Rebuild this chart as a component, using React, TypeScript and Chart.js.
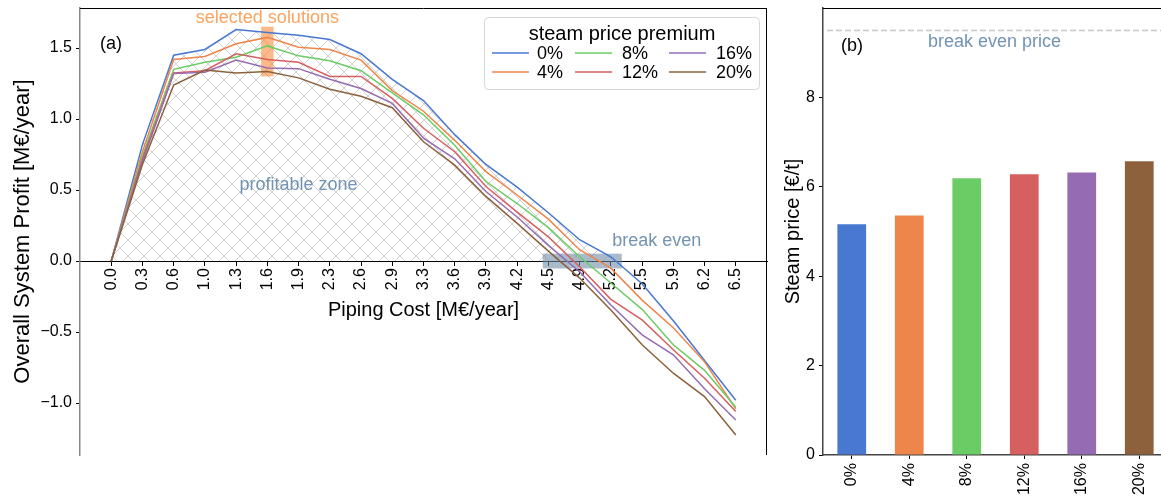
import React, { useEffect, useRef } from 'react';
import { Chart, registerables } from 'chart.js';

Chart.register(...registerables);

// ---------- data ----------
const pipingCost = ['0.0', '0.3', '0.6', '1.0', '1.3', '1.6', '1.9', '2.3', '2.6', '2.9', '3.3', '3.6', '3.9', '4.2', '4.5', '4.9', '5.2', '5.5', '5.9', '6.2', '6.5'];
const premiumLabels = ['0%', '4%', '8%', '12%', '16%', '20%'];

const profit0 = [0, 0.82, 1.45, 1.49, 1.63, 1.61, 1.59, 1.56, 1.46, 1.28, 1.13, 0.89, 0.68, 0.52, 0.34, 0.15, 0.03, -0.16, -0.42, -0.70, -0.98];
const profit4 = [0, 0.77, 1.42, 1.44, 1.53, 1.575, 1.505, 1.49, 1.415, 1.20, 1.055, 0.85, 0.63, 0.465, 0.295, 0.08, -0.05, -0.275, -0.47, -0.71, -1.04];
const profit8 = [0, 0.74, 1.35, 1.40, 1.435, 1.515, 1.445, 1.41, 1.34, 1.185, 1.03, 0.815, 0.56, 0.405, 0.235, 0.03, -0.155, -0.34, -0.59, -0.77, -1.03];
const profit12 = [0, 0.72, 1.325, 1.34, 1.46, 1.42, 1.40, 1.30, 1.30, 1.145, 0.935, 0.77, 0.525, 0.345, 0.17, -0.04, -0.27, -0.415, -0.625, -0.825, -1.06];
const profit16 = [0, 0.70, 1.32, 1.33, 1.415, 1.36, 1.355, 1.28, 1.215, 1.11, 0.865, 0.72, 0.49, 0.31, 0.11, -0.075, -0.31, -0.52, -0.66, -0.90, -1.12];
const profit20 = [0, 0.68, 1.24, 1.345, 1.325, 1.335, 1.29, 1.21, 1.16, 1.08, 0.84, 0.675, 0.455, 0.265, 0.07, -0.12, -0.345, -0.59, -0.79, -0.955, -1.225];

const steamPrice = [5.16, 5.36, 6.19, 6.28, 6.32, 6.57];
const breakEvenPrice = 9.5;

const leftYTicks = { min: -1.366, max: 1.782, step: 0.5 };
const rightYTicks = { min: 0, max: 10, step: 2, lastShown: 8 };

// selected solutions span (index on x, value on y) and break-even span
const selectedSpan = { x0: 4.8, x1: 5.2, y0: 1.3, y1: 1.65 };
const breakEvenSpan = { x0: 13.82, x1: 16.35, y0: -0.052, y1: 0.052 };

const palette = ['#4878d0', '#ee854a', '#6acc64', '#d65f5f', '#956cb4', '#8c613c'];
const FONT = '"Liberation Sans", Arial, Helvetica, sans-serif';
const annotBlue = '#7393b3';

Chart.defaults.font.family = FONT;
Chart.defaults.color = '#000';

function makeHatch() {
  const c = document.createElement('canvas');
  c.width = 16;
  c.height = 16;
  const g = c.getContext('2d')!;
  g.strokeStyle = '#cdcdcd';
  g.lineWidth = 0.9;
  g.beginPath();
  g.moveTo(0, 0);
  g.lineTo(16, 16);
  g.moveTo(16, 0);
  g.lineTo(0, 16);
  g.stroke();
  return g.createPattern(c, 'repeat')!;
}

const fmtSigned = (v: number) => (v < 0 ? '\u2212' : '') + Math.abs(v).toFixed(1);

export default function App() {
  const leftRef = useRef<HTMLCanvasElement | null>(null);
  const rightRef = useRef<HTMLCanvasElement | null>(null);

  useEffect(() => {
    const series = [profit0, profit4, profit8, profit12, profit16, profit20];
    const hatch = makeHatch();

    const leftPlugin = {
      id: 'leftAnnot',
      afterDatasetDraw(chart: any, args: any) {
        if (args.index !== 0) return;
        const { ctx } = chart;
        const xs = chart.scales.x;
        const ys = chart.scales.y;
        ctx.save();
        ctx.fillStyle = 'rgba(250,140,60,0.6)';
        const ax = xs.getPixelForValue(selectedSpan.x0);
        const bx = xs.getPixelForValue(selectedSpan.x1);
        const ay = ys.getPixelForValue(selectedSpan.y1);
        const by = ys.getPixelForValue(selectedSpan.y0);
        ctx.fillRect(ax, ay, bx - ax, by - ay);
        ctx.fillStyle = 'rgba(112,140,168,0.6)';
        const cx = xs.getPixelForValue(breakEvenSpan.x0);
        const dx = xs.getPixelForValue(breakEvenSpan.x1);
        const cy = ys.getPixelForValue(breakEvenSpan.y1);
        const dy = ys.getPixelForValue(breakEvenSpan.y0);
        ctx.fillRect(cx, cy, dx - cx, dy - cy);
        ctx.restore();
      },
      afterDraw(chart: any) {
        const { ctx, chartArea } = chart;
        const xs = chart.scales.x;
        const ys = chart.scales.y;
        ctx.save();
        // spines
        ctx.strokeStyle = '#000';
        ctx.lineWidth = 1;
        ctx.beginPath();
        ctx.moveTo(chartArea.left, chartArea.top + 0.5);
        ctx.lineTo(chartArea.right, chartArea.top + 0.5);
        ctx.moveTo(chartArea.right - 0.5, chartArea.top);
        ctx.lineTo(chartArea.right - 0.5, chartArea.bottom);
        ctx.stroke();

        ctx.textBaseline = 'middle';
        ctx.font = `18px ${FONT}`;
        ctx.fillStyle = '#000';
        ctx.textAlign = 'left';
        ctx.fillText('(a)', chartArea.left + 20, chartArea.top + 36);

        ctx.textAlign = 'center';
        ctx.fillStyle = '#fca35f';
        ctx.fillText('selected solutions', xs.getPixelForValue(5), ys.getPixelForValue(1.71));
        ctx.fillStyle = annotBlue;
        ctx.fillText('profitable zone', xs.getPixelForValue(6.0), ys.getPixelForValue(0.535));
        ctx.fillText('break even', xs.getPixelForValue(17.47), ys.getPixelForValue(0.14));

        // legend
        const bx0 = chartArea.right - 283;
        const by0 = chartArea.top + 9;
        const bw = 275;
        const bh = 72;
        ctx.fillStyle = 'rgba(255,255,255,0.85)';
        ctx.strokeStyle = '#d6d6d6';
        ctx.lineWidth = 1;
        ctx.beginPath();
        (ctx as any).roundRect(bx0 + 0.5, by0 + 0.5, bw, bh, 4);
        ctx.fill();
        ctx.stroke();
        ctx.fillStyle = '#000';
        ctx.font = `20px ${FONT}`;
        ctx.textAlign = 'center';
        ctx.fillText('steam price premium', bx0 + 138, by0 + 17);
        ctx.font = `18px ${FONT}`;
        ctx.textAlign = 'left';
        const cols = [
          { line: 8, label: 53 },
          { line: 91, label: 138 },
          { line: 185, label: 232 },
        ];
        const rows = [by0 + 36, by0 + 55];
        premiumLabels.forEach((lab, i) => {
          const col = cols[Math.floor(i / 2)];
          const ry = rows[i % 2];
          ctx.strokeStyle = palette[i];
          ctx.lineWidth = 1.5;
          ctx.beginPath();
          ctx.moveTo(bx0 + col.line, ry);
          ctx.lineTo(bx0 + col.line + 37, ry);
          ctx.stroke();
          ctx.fillStyle = '#000';
          ctx.fillText(lab, bx0 + col.label, ry + 1);
        });
        ctx.restore();
      },
    };

    const left = new Chart(leftRef.current!, {
      type: 'line',
      data: {
        datasets: [
          {
            label: 'profitable zone',
            data: profit0.map((y, i) => ({ x: i, y })),
            borderWidth: 0,
            borderColor: 'rgba(0,0,0,0)',
            pointRadius: 0,
            fill: { target: { value: 0 }, above: hatch, below: 'rgba(0,0,0,0)' } as any,
            order: 20,
          },
          ...series.map((s, i) => ({
            label: premiumLabels[i],
            data: s.map((y, j) => ({ x: j, y })),
            borderColor: palette[i],
            backgroundColor: palette[i],
            borderWidth: 1.5,
            pointRadius: 0,
            fill: false,
            tension: 0,
            order: 10 - i,
          })),
        ],
      },
      options: {
        animation: false,
        responsive: false,
        layout: { padding: { left: 0, top: 8, right: 8, bottom: 44 } },
        plugins: { legend: { display: false }, tooltip: { enabled: false } },
        scales: {
          x: {
            type: 'linear',
            min: -1,
            max: pipingCost.length,
            position: { y: 0 } as any,
            afterBuildTicks: (s: any) => {
              s.ticks = pipingCost.map((_, i) => ({ value: i }));
            },
            afterFit: (s: any) => {
              s.height = 67;
              s.paddingLeft = 0;
              s.paddingRight = 0;
            },
            ticks: {
              autoSkip: false,
              minRotation: 90,
              maxRotation: 90,
              padding: 3,
              color: '#000',
              font: { size: 16 },
              callback: (v: any) => pipingCost[v] ?? '',
            },
            grid: { drawOnChartArea: false, drawTicks: true, tickLength: 4, color: '#000' },
            border: { display: true, color: '#000', width: 1 },
            title: {
              display: true,
              text: 'Piping Cost [M€/year]',
              color: '#000',
              font: { size: 20 },
              padding: { top: 0, bottom: 6 },
            },
          },
          y: {
            type: 'linear',
            position: 'left',
            min: leftYTicks.min,
            max: leftYTicks.max,
            afterFit: (s: any) => {
              s.width = 80;
              s.paddingTop = 0;
              s.paddingBottom = 0;
            },
            ticks: {
              stepSize: leftYTicks.step,
              includeBounds: false,
              padding: 4,
              color: '#000',
              font: { size: 16 },
              callback: (v: any) => fmtSigned(Number(v)),
            },
            grid: { drawOnChartArea: false, drawTicks: true, tickLength: 4, color: '#000' },
            border: { display: true, color: '#888', width: 1.5 },
            title: {
              display: true,
              text: 'Overall System Profit [M€/year]',
              color: '#000',
              font: { size: 22 },
              padding: { top: 10, bottom: 0 },
            },
          },
        },
      },
      plugins: [leftPlugin],
    } as any);

    const rightPlugin = {
      id: 'rightAnnot',
      afterDraw(chart: any) {
        const { ctx, chartArea } = chart;
        const ys = chart.scales.y;
        ctx.save();
        ctx.strokeStyle = '#000';
        ctx.lineWidth = 1;
        ctx.beginPath();
        ctx.moveTo(chartArea.left, chartArea.top + 0.5);
        ctx.lineTo(chartArea.right, chartArea.top + 0.5);
        ctx.stroke();

        const yb = Math.round(ys.getPixelForValue(breakEvenPrice)) + 0.5;
        ctx.strokeStyle = '#c8c8c8';
        ctx.lineWidth = 1.5;
        ctx.setLineDash([6, 3]);
        ctx.beginPath();
        ctx.moveTo(chartArea.left + 4, yb);
        ctx.lineTo(chartArea.right, yb);
        ctx.stroke();
        ctx.setLineDash([]);

        ctx.textBaseline = 'middle';
        ctx.font = `18px ${FONT}`;
        ctx.textAlign = 'left';
        ctx.fillStyle = '#000';
        ctx.fillText('(b)', chartArea.left + 18, ys.getPixelForValue(9.14));
        ctx.fillStyle = annotBlue;
        ctx.fillText('break even price', chartArea.left + 105, ys.getPixelForValue(9.23));
        ctx.restore();
      },
    };

    const right = new Chart(rightRef.current!, {
      type: 'bar',
      data: {
        labels: premiumLabels,
        datasets: [
          {
            label: 'Steam price',
            data: steamPrice,
            backgroundColor: palette,
            borderWidth: 0,
            barPercentage: 0.5,
            categoryPercentage: 1,
          },
        ],
      },
      options: {
        animation: false,
        responsive: false,
        layout: { padding: { left: 0, top: 8, right: 7, bottom: 0 } },
        plugins: { legend: { display: false }, tooltip: { enabled: false } },
        scales: {
          x: {
            position: 'bottom',
            afterFit: (s: any) => {
              s.height = 44;
              s.paddingLeft = 0;
              s.paddingRight = 0;
            },
            ticks: {
              autoSkip: false,
              minRotation: 90,
              maxRotation: 90,
              padding: 4,
              color: '#000',
              font: { size: 16 },
            },
            grid: { drawOnChartArea: false, drawTicks: true, tickLength: 4, color: '#000', offset: false },
            border: { display: true, color: '#444', width: 1.5 },
          },
          y: {
            min: rightYTicks.min,
            max: rightYTicks.max,
            afterFit: (s: any) => {
              s.width = 48;
              s.paddingTop = 0;
              s.paddingBottom = 0;
            },
            afterBuildTicks: (s: any) => {
              s.ticks = s.ticks.filter((t: any) => t.value <= rightYTicks.lastShown);
            },
            ticks: {
              stepSize: rightYTicks.step,
              padding: 4,
              color: '#000',
              font: { size: 16 },
            },
            grid: { drawOnChartArea: false, drawTicks: true, tickLength: 4, color: '#000' },
            border: { display: true, color: '#444', width: 1.5 },
            title: {
              display: true,
              text: 'Steam price [€/t]',
              color: '#000',
              font: { size: 20 },
              padding: { top: 6, bottom: 0 },
            },
          },
        },
      },
      plugins: [rightPlugin],
    } as any);

    return () => {
      left.destroy();
      right.destroy();
    };
  }, []);

  return (
    <div
      style={{
        position: 'absolute',
        left: 0,
        top: 0,
        width: 1161,
        height: 499,
        overflow: 'hidden',
        background: '#fff',
      }}
    >
      <canvas ref={leftRef} width={775} height={499} style={{ position: 'absolute', left: 0, top: 0 }} />
      <canvas ref={rightRef} width={400} height={499} style={{ position: 'absolute', left: 775, top: 0 }} />
    </div>
  );
}
